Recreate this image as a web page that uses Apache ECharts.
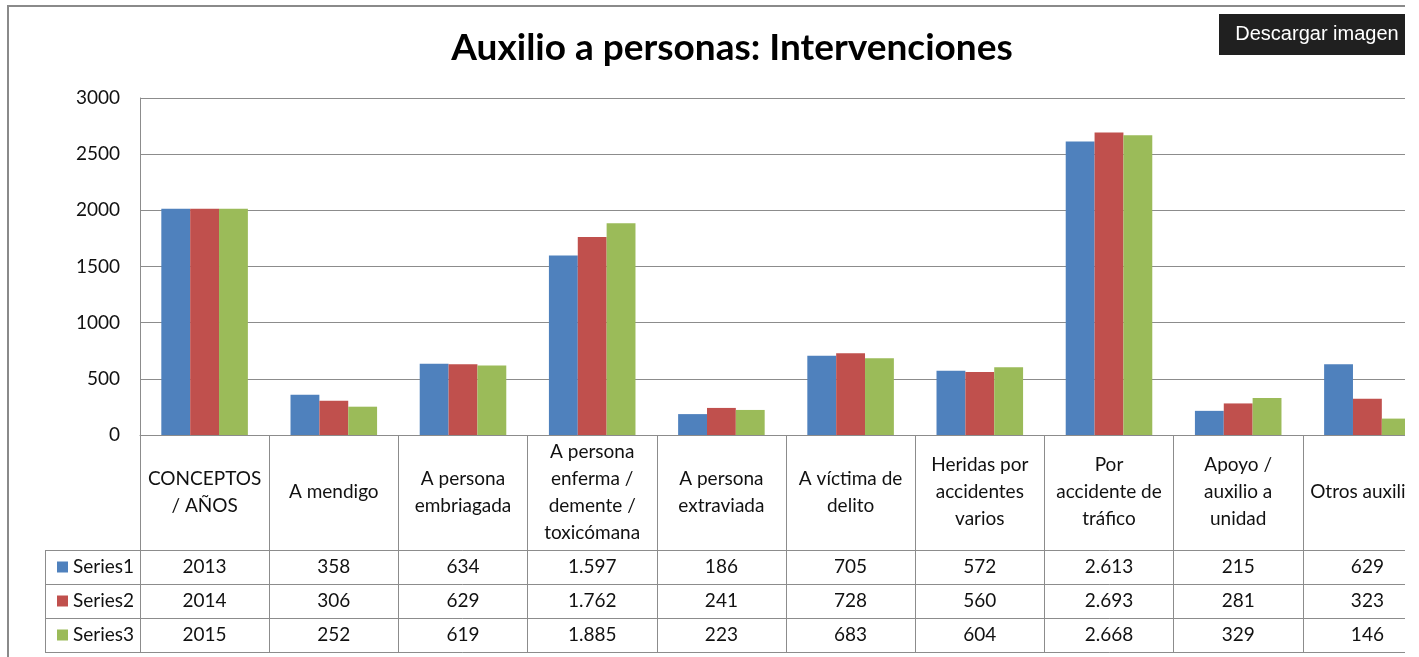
<!DOCTYPE html>
<html>
<head>
<meta charset="utf-8">
<script src="https://cdn.jsdelivr.net/npm/echarts@6/dist/echarts.min.js"></script>
<style>
  html, body { margin: 0; padding: 0; background: #fff; }
  #clip { position: absolute; left: 0; top: 0; width: 1405px; height: 657px; overflow: hidden; }
  #chart { position: absolute; left: 0; top: 0; width: 1464px; height: 657px; }
  #frame { position: absolute; left: 7px; top: 5px; width: 2000px; height: 2000px;
           border-left: 2px solid #8a8a8a; border-top: 2px solid #8a8a8a; pointer-events: none; }
</style>
</head>
<body>
<div id="clip">
  <div id="chart"></div>
  <div id="frame"></div>
</div>
<script>
const titleText = 'Auxilio a personas: Intervenciones';
const categories = ['CONCEPTOS / AÑOS', 'A mendigo', 'A persona embriagada', 'A persona enferma / demente / toxicómana',
  'A persona extraviada', 'A víctima de delito', 'Heridas por accidentes varios', 'Por accidente de tráfico',
  'Apoyo / auxilio a unidad', 'Otros auxilios'];
const categoryLabels = ['CONCEPTOS\n/ AÑOS', 'A mendigo', 'A persona\nembriagada', 'A persona\nenferma /\ndemente /\ntoxicómana',
  'A persona\nextraviada', 'A víctima de\ndelito', 'Heridas por\naccidentes\nvarios', 'Por\naccidente de\ntráfico',
  'Apoyo /\nauxilio a\nunidad', 'Otros auxilios'];
const seriesNames = ['Series1', 'Series2', 'Series3'];
const series1 = [2013, 358, 634, 1597, 186, 705, 572, 2613, 215, 629];
const series2 = [2014, 306, 629, 1762, 241, 728, 560, 2693, 281, 323];
const series3 = [2015, 252, 619, 1885, 223, 683, 604, 2668, 329, 146];
const yTicks = { min: 0, max: 3000, interval: 500 };
const colors = ['#4F81BD', '#C0504D', '#9BBB59'];

const allSeries = [series1, series2, series3];
const FONT = 'Lato';
const FS = 19;
const GRAY = '#8c8c8c';

function fmt(v, i) {
  if (i === 0) return String(v);
  const s = String(v);
  return v >= 1000 ? s.slice(0, s.length - 3) + '.' + s.slice(-3) : s;
}

const rowOffsets = [115, 149, 183];
const xAxes = [{
  type: 'category', gridIndex: 0, position: 'bottom', data: categoryLabels,
  axisLine: { show: true, lineStyle: { color: GRAY, width: 1 } },
  axisTick: { show: true, interval: 0, length: 217, lineStyle: { color: GRAY, width: 1 } },
  axisLabel: { interval: 0, margin: 57, verticalAlign: 'middle', lineHeight: 27,
               fontFamily: FONT, fontSize: FS, color: '#111' }
}];
allSeries.forEach((arr, k) => {
  xAxes.push({
    type: 'category', gridIndex: 0, position: 'bottom', offset: rowOffsets[k], data: categories,
    axisLine: { show: true, lineStyle: { color: GRAY, width: 1 } },
    axisTick: { show: false },
    axisLabel: { interval: 0, margin: 17, verticalAlign: 'middle', fontFamily: FONT, fontSize: FS, color: '#111',
                 formatter: (val, idx) => fmt(arr[idx], idx) }
  });
});
xAxes.push({
  type: 'category', gridIndex: 0, position: 'bottom', offset: 217, data: categories,
  axisLine: { show: true, lineStyle: { color: GRAY, width: 1 } },
  axisTick: { show: false }, axisLabel: { show: false }
});

const chart = echarts.init(document.getElementById('chart'), null, { renderer: 'canvas' });
chart.setOption({
  animation: false,
  backgroundColor: '#fff',
  color: colors,
  title: {
    text: titleText, left: 'center', top: 25,
    textStyle: { fontFamily: FONT, fontWeight: 'bold', fontSize: 37, color: '#000' }
  },
  legend: {
    data: seriesNames, orient: 'vertical', left: 52, top: 552,
    icon: 'rect', itemWidth: 11, itemHeight: 11, itemGap: 14,
    textStyle: { fontFamily: FONT, fontSize: FS, color: '#111', lineHeight: 20 },
    selectedMode: false
  },
  grid: { left: 140, top: 98, width: 1292, height: 337, containLabel: false },
  xAxis: xAxes,
  yAxis: {
    type: 'value', min: yTicks.min, max: yTicks.max, interval: yTicks.interval,
    axisLine: { show: true, lineStyle: { color: GRAY } },
    axisTick: { show: false },
    splitLine: { show: true, lineStyle: { color: GRAY, width: 1 } },
    axisLabel: { margin: 20, fontFamily: FONT, fontSize: FS, color: '#111', formatter: v => String(v) }
  },
  series: allSeries.map((arr, k) => ({
    name: seriesNames[k], type: 'bar', xAxisIndex: 0, yAxisIndex: 0, data: arr,
    barGap: '0%', barCategoryGap: '33%', itemStyle: { color: colors[k] }
  })),
  graphic: [
    { type: 'line', shape: { x1: 45, y1: 550.5, x2: 140, y2: 550.5 }, style: { stroke: GRAY, lineWidth: 1 } },
    { type: 'line', shape: { x1: 45, y1: 584.5, x2: 140, y2: 584.5 }, style: { stroke: GRAY, lineWidth: 1 } },
    { type: 'line', shape: { x1: 45, y1: 618.5, x2: 140, y2: 618.5 }, style: { stroke: GRAY, lineWidth: 1 } },
    { type: 'line', shape: { x1: 45, y1: 652.5, x2: 140, y2: 652.5 }, style: { stroke: GRAY, lineWidth: 1 } },
    { type: 'line', shape: { x1: 45.5, y1: 550, x2: 45.5, y2: 653 }, style: { stroke: GRAY, lineWidth: 1 } },
    { type: 'rect', shape: { x: 1219, y: 14, width: 190, height: 41 }, style: { fill: '#202020' } },
    { type: 'text', x: 1317, y: 34.5, style: { text: 'Descargar imagen', fill: '#fff', font: '20px "Liberation Sans", Arial, sans-serif',
      align: 'center', verticalAlign: 'middle' } }
  ]
});
</script>
</body>
</html>
